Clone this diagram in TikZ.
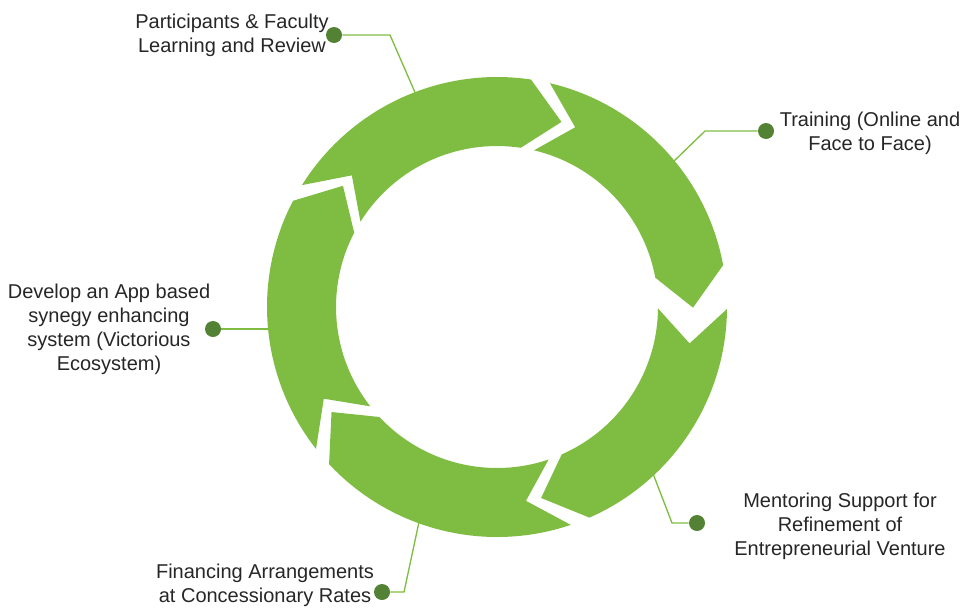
\documentclass[tikz,border=0pt]{standalone}
\usepackage{fontspec}
\setmainfont{Liberation Sans}

\definecolor{ringgreen}{RGB}{127,189,66}
\definecolor{dotgreen}{RGB}{84,130,53}
\definecolor{labelgray}{RGB}{38,38,38}

% one arrow of the ring: #1 = tail angle, #2 = head angle (clockwise)
\newcommand{\ringseg}[2]{%
  \fill[ringgreen] (#1:230) arc[start angle=#1, end angle=#2, radius=230]
    -- ({#2-10.7}:196) -- (#2:161) arc[start angle=#2, end angle=#1, radius=161]
    -- ({#1-10.2}:196) -- cycle;}

\tikzset{
  steplabel/.style={font=\fontsize{15}{18}\selectfont, text=labelgray, align=center, inner sep=0pt},
  stepdot/.style={circle, fill=dotgreen, minimum size=12pt, inner sep=0pt},
  leader/.style={draw=ringgreen, line width=1pt}
}

\begin{document}
\begin{tikzpicture}[x=0.75pt,y=0.75pt,yscale=-1,xscale=1]
\useasboundingbox (0,0) rectangle (962,607);

% Text Node
\node[steplabel] (review) at (232,35) {Participants \& Faculty\\Learning and Review};
% Text Node
\node[steplabel] (training) at (870,133) {Training (Online and\\Face to Face)};
% Text Node
\node[steplabel] (mentoring) at (840,526) {Mentoring Support for\\Refinement of\\Entrepreneurial Venture};
% Text Node
\node[steplabel] (finance) at (265,585) {Financing Arrangements\\at Concessionary Rates};
% Text Node
\node[steplabel] (app) at (109,329) {Develop an App based\\synegy enhancing\\system (Victorious\\Ecosystem)};

%Leader dots
\node[stepdot] (review-dot) at (334,35) {};
\node[stepdot] (training-dot) at (766,131) {};
\node[stepdot] (mentoring-dot) at (697,523) {};
\node[stepdot] (finance-dot) at (382,592) {};
\node[stepdot] (app-dot) at (213,329) {};

%Leader bends and ends on the ring
\coordinate (review-bend) at (390,35);
\coordinate (review-end) at (417,97);
\coordinate (training-bend) at (705,131);
\coordinate (training-end) at (672,163);
\coordinate (mentoring-bend) at (672,523);
\coordinate (mentoring-end) at (652,471);
\coordinate (finance-bend) at (404,592);
\coordinate (finance-end) at (419,522);
\coordinate (app-end) at (272,329);

\draw[leader] (review-dot) -- (review-bend) -- (review-end);
\draw[leader] (training-dot) -- (training-bend) -- (training-end);
\draw[leader] (mentoring-dot) -- (mentoring-bend) -- (mentoring-end);
\draw[leader] (finance-dot) -- (finance-bend) -- (finance-end);
\draw[leader] (app-dot) -- (app-end);

%Ring of arrows
\begin{scope}[shift={(497,307)},yscale=-1]
\ringseg{148}{81.5}
\ringseg{76.7}{10.5}
\ringseg{-0.5}{-66.3}
\ringseg{-71.3}{-136.9}
\ringseg{-141.9}{-207.5}
\end{scope}

\end{tikzpicture}
\end{document}
